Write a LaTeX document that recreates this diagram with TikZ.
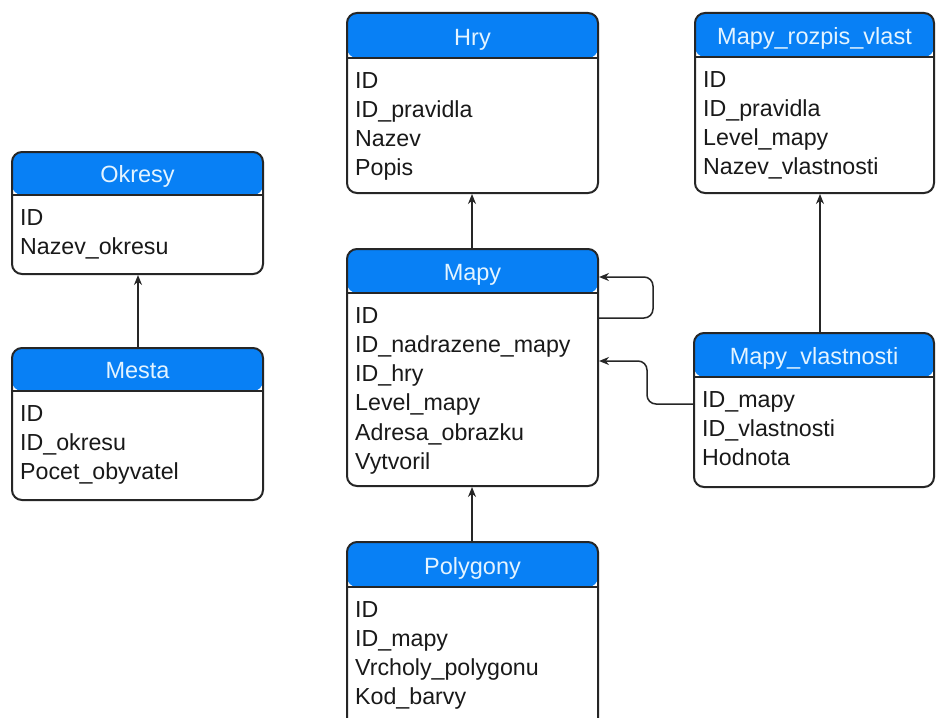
\documentclass[tikz,border=0pt]{standalone}
\usepackage{fontspec}
\setmainfont{Liberation Sans}
\usetikzlibrary{arrows.meta}
\definecolor{hdr}{RGB}{8,128,245}
\definecolor{hdrtxt}{RGB}{228,244,255}
\tikzset{
  erbox/.style={draw=black!85, line width=2pt, rounded corners=10pt, fill=white, inner sep=0pt, shape=rectangle},
  ttl/.style={text=hdrtxt, inner sep=0pt, font=\fontsize{23.5}{28}\selectfont},
  rowtxt/.style={text=black!90, inner sep=0pt, font=\fontsize{23.2}{28}\selectfont},
  conn/.style={draw=black!85, line width=1.5pt, -{Stealth[length=10pt,width=8pt]}, rounded corners=9pt}
}
% name, x1, y1, x2, yheader, y2, title, rows
\newcommand\erbox[8]{%
  \node[erbox, minimum width={(#4-#2)*1pt}, minimum height={(#6-#3)*1pt},
    path picture={\fill[hdr] (path picture bounding box.north west) rectangle ([yshift={-(#5-#3)*1pt}]path picture bounding box.north east);
      \draw[line width=2pt, black!85] ([yshift={-(#5-#3)*1pt}]path picture bounding box.north west) -- ([yshift={-(#5-#3)*1pt}]path picture bounding box.north east);}]
    (#1) at ({(#2+#4)/2},{(#3+#6)/2}) {};
  \node[ttl, anchor=base] (#1-t) at ({(#2+#4)/2},{#5-12.5}) {#7};
  \foreach \r [count=\i] in {#8} {\node[rowtxt, anchor=base west] (#1-r\i) at ({#2+8},{#5+30+(\i-1)*29.3}) {\r};}
}
\begin{document}
\begin{tikzpicture}[x=1pt,y=-1pt]
\useasboundingbox (0,0) rectangle (936,717);
\clip (0,0) rectangle (936,717);
\fill[white] (0,0) rectangle (936,717);
\erbox{okresy}{12}{152}{263}{195}{274}{Okresy}{ID,Nazev\_okresu}
\erbox{mesta}{12}{348}{263}{391}{500}{Mesta}{ID,ID\_okresu,Pocet\_obyvatel}
\erbox{hry}{347}{13}{598}{58}{193}{Hry}{ID,ID\_pravidla,Nazev,Popis}
\erbox{mapy}{347}{249}{598}{293}{486}{Mapy}{ID,ID\_nadrazene\_mapy,ID\_hry,Level\_mapy,Adresa\_obrazku,Vytvoril}
\erbox{poly}{347}{542}{598}{587}{735}{Polygony}{ID,ID\_mapy,Vrcholy\_polygonu,Kod\_barvy}
\erbox{mrv}{695}{13}{934}{57}{193}{Mapy\_rozpis\_vlast}{ID,ID\_pravidla,Level\_mapy,Nazev\_vlastnosti}
\erbox{mv}{694}{333}{934}{377}{487}{Mapy\_vlastnosti}{ID\_mapy,ID\_vlastnosti,Hodnota}
% connectors
\draw[conn] (mesta.north -| 138,0) -- (okresy.south -| 138,0);
\draw[conn] (mapy.north -| 472,0) -- (hry.south -| 472,0);
\draw[conn] (poly.north -| 472,0) -- (mapy.south -| 472,0);
\draw[conn] (mv.north -| 820,0) -- (mrv.south -| 820,0);
\coordinate (loopA) at (653,318);
\coordinate (loopB) at (653,277);
\draw[conn] (mapy.east |- loopA) -- (loopA) -- (loopB) -- (mapy.east |- loopB);
\coordinate (bendA) at (647,404);
\coordinate (bendB) at (647,361);
\draw[conn] (mv.west |- bendA) -- (bendA) -- (bendB) -- (mapy.east |- bendB);
\end{tikzpicture}
\end{document}
